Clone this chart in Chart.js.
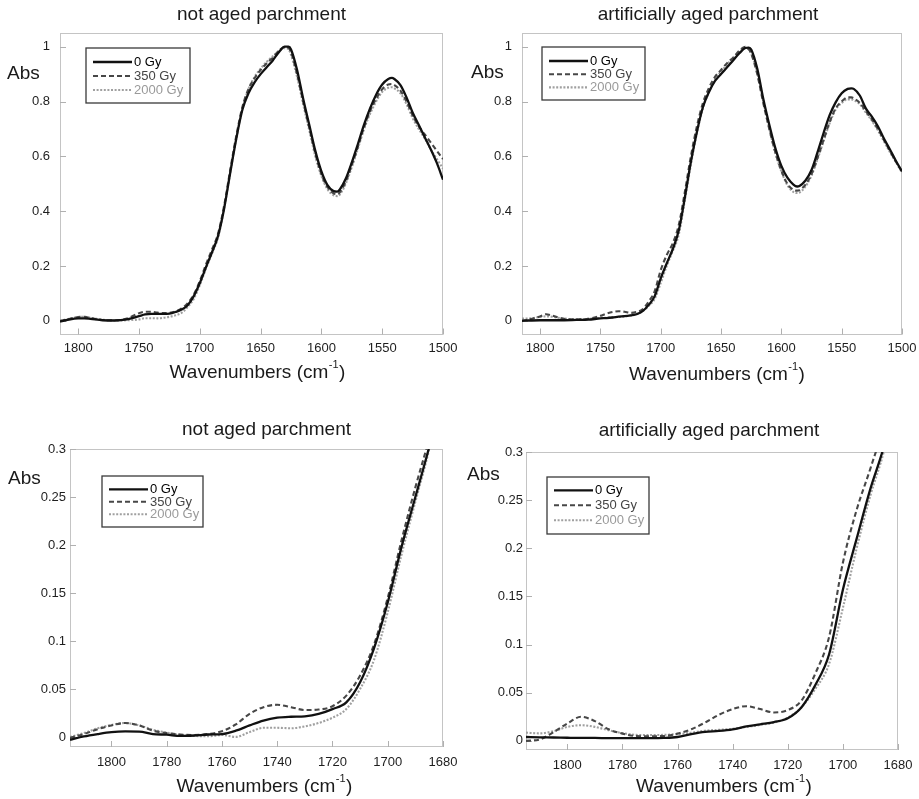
<!DOCTYPE html>
<html><head><meta charset="utf-8">
<script src="https://cdn.jsdelivr.net/npm/chart.js@4.4.0/dist/chart.umd.min.js"></script>
<style>
html,body{margin:0;padding:0;background:#fff;}
#wrap{position:relative;width:919px;height:799px;overflow:hidden;}
.p{position:absolute;}
</style></head><body>
<div id="wrap">
<div class="p" style="left:0;top:0;width:459px;height:400px"><canvas id="c1"></canvas></div>
<div class="p" style="left:459px;top:0;width:460px;height:400px"><canvas id="c2"></canvas></div>
<div class="p" style="left:0;top:400px;width:459px;height:399px"><canvas id="c3"></canvas></div>
<div class="p" style="left:459px;top:400px;width:460px;height:399px"><canvas id="c4"></canvas></div>
</div>
<script>
// ---------- data ----------
const seriesLabels = ['0 Gy', '350 Gy', '2000 Gy'];
const panelTitles = ['not aged parchment', 'artificially aged parchment'];

const fullTicksX = [1800, 1750, 1700, 1650, 1600, 1550, 1500];
const fullTicksY = [0, 0.2, 0.4, 0.6, 0.8, 1];
const zoomTicksX = [1800, 1780, 1760, 1740, 1720, 1700, 1680];
const zoomTicksY = [0, 0.05, 0.1, 0.15, 0.2, 0.25, 0.3];

const fullWavenumbers = [1815,1810,1800,1795,1790,1780,1770,1760,1750,1745,1740,1735,1730,1725,1720,1715,1710,1705,1700,1695,1690,1685,1680,1675,1670,1665,1660,1655,1650,1645,1640,1635,1630,1627,1625,1620,1615,1610,1605,1600,1595,1590,1587,1585,1580,1575,1570,1565,1560,1555,1550,1545,1542,1540,1535,1530,1525,1520,1515,1510,1505,1500];

const notAged0 = [-0.003,0.002,0.009,0.009,0.007, 0.002,0.001,0.005,0.017,0.023, 0.025,0.025,0.025,0.026,0.032, 0.041,0.057,0.09,0.138,0.195, 0.25,0.31,0.41,0.54,0.665, 0.77,0.83,0.87,0.9,0.925, 0.95,0.98,1.0,1.0,0.99, 0.915,0.81,0.715,0.62,0.545, 0.495,0.473,0.471,0.478,0.518, 0.578,0.645,0.715,0.775,0.825, 0.862,0.882,0.886,0.882,0.86, 0.815,0.76,0.715,0.67,0.625, 0.575,0.515];
const notAged350 = [0.0,0.004,0.014,0.015,0.01, 0.003,0.002,0.008,0.028,0.033, 0.033,0.03,0.028,0.029,0.034, 0.045,0.064,0.096,0.145,0.205, 0.26,0.318,0.42,0.55,0.675, 0.78,0.845,0.885,0.915,0.94, 0.96,0.985,1.0,0.995,0.98, 0.9,0.8,0.705,0.61,0.535, 0.488,0.465,0.462,0.468,0.508, 0.568,0.635,0.705,0.765,0.81, 0.845,0.862,0.864,0.86,0.84, 0.8,0.75,0.71,0.68,0.65, 0.62,0.59];
const notAged2000 = [0.0,0.005,0.014,0.015,0.011, 0.004,0.001,0.002,0.005,0.0095, 0.0095,0.009,0.011,0.0145,0.02, 0.029,0.05,0.08,0.13,0.19, 0.245,0.305,0.41,0.54,0.665, 0.775,0.845,0.89,0.92,0.945, 0.965,0.985,0.995,0.99,0.97, 0.89,0.79,0.695,0.6,0.528, 0.48,0.458,0.455,0.46,0.5, 0.56,0.628,0.698,0.755,0.8, 0.835,0.85,0.852,0.848,0.83, 0.79,0.74,0.7,0.665,0.625, 0.59,0.555];

const aged0 = [0.0,0.001,0.002,0.002,0.002, 0.002,0.003,0.004,0.009,0.01, 0.012,0.015,0.017,0.02,0.024, 0.035,0.058,0.09,0.155,0.21, 0.262,0.33,0.45,0.58,0.69, 0.78,0.835,0.875,0.9,0.925, 0.95,0.975,0.995,0.997,0.99, 0.92,0.81,0.715,0.63,0.565, 0.522,0.497,0.49,0.492,0.512, 0.55,0.615,0.685,0.75,0.797, 0.83,0.846,0.848,0.846,0.822, 0.775,0.745,0.71,0.665,0.625, 0.583,0.545];
const aged350 = [0.0,0.004,0.016,0.024,0.019, 0.007,0.005,0.007,0.018,0.026, 0.032,0.035,0.033,0.029,0.032, 0.042,0.07,0.108,0.185,0.24, 0.283,0.35,0.47,0.6,0.71, 0.795,0.85,0.89,0.915,0.94, 0.96,0.985,1.0,0.99,0.975, 0.9,0.795,0.7,0.615,0.548, 0.5,0.478,0.475,0.477,0.497, 0.535,0.595,0.66,0.725,0.775, 0.8,0.815,0.815,0.812,0.795, 0.765,0.735,0.7,0.66,0.62, 0.58,0.545];
const aged2000 = [0.008,0.008,0.0145,0.016,0.0145, 0.008,0.006,0.007,0.0105,0.0115, 0.0125,0.0145,0.0165,0.019,0.024, 0.035,0.054,0.08,0.138,0.2, 0.255,0.315,0.44,0.57,0.685, 0.775,0.835,0.88,0.91,0.935, 0.96,0.98,0.995,0.99,0.975, 0.905,0.8,0.7,0.612,0.545, 0.495,0.47,0.466,0.468,0.49, 0.53,0.59,0.655,0.72,0.77, 0.795,0.808,0.808,0.805,0.79, 0.76,0.73,0.695,0.655,0.615, 0.578,0.54];

const zoomWavenumbers = [1815,1810,1805,1800,1795,1790,1785,1780,1775,1770,1765,1760,1755,1750,1745,1740,1735,1730,1725,1720,1715,1710,1705,1700,1695,1690,1685,1680];

const zoomNotAged0 = [-0.003,0.0005,0.003,0.005,0.0057,0.0056,0.003,0.0023,0.001,0.0015,0.0025,0.003,0.0065,0.012,0.017,0.02,0.021,0.0215,0.024,0.029,0.036,0.057,0.092,0.14,0.198,0.25,0.302,0.36];
const zoomNotAged350 = [-0.001,0.003,0.008,0.012,0.0145,0.012,0.0065,0.004,0.0025,0.002,0.003,0.006,0.013,0.024,0.031,0.0335,0.031,0.028,0.0285,0.032,0.043,0.064,0.096,0.145,0.205,0.26,0.312,0.38];
const zoomNotAged2000 = [0.0,0.004,0.009,0.0125,0.0145,0.012,0.0075,0.0045,0.002,0.001,0.0007,0.002,0.0,0.005,0.0095,0.0095,0.009,0.011,0.0145,0.02,0.029,0.05,0.08,0.13,0.19,0.245,0.3,0.37];

const zoomAged0 = [0.004,0.0037,0.0035,0.0032,0.003,0.003,0.0028,0.0028,0.0028,0.0028,0.003,0.004,0.007,0.0093,0.0103,0.012,0.015,0.0172,0.0195,0.0235,0.035,0.058,0.09,0.157,0.21,0.262,0.307,0.37];
const zoomAged350 = [0.0,0.0015,0.009,0.018,0.025,0.0205,0.012,0.0075,0.005,0.0048,0.005,0.0075,0.012,0.019,0.027,0.033,0.036,0.033,0.0295,0.032,0.042,0.07,0.108,0.185,0.24,0.283,0.33,0.4];
const zoomAged2000 = [0.0085,0.0078,0.01,0.0145,0.0162,0.0145,0.011,0.008,0.0062,0.006,0.0062,0.007,0.0085,0.0105,0.0115,0.0125,0.0145,0.0165,0.019,0.024,0.035,0.054,0.08,0.138,0.2,0.255,0.302,0.37];

// ---------- styles ----------
const FONT = '"Liberation Sans", Arial, Helvetica, sans-serif';
const lineColors = ['#111111', '#474747', '#a0a0a0'];
const textColors = ['#000000', '#444444', '#9a9a9a'];
const lineDashes = [[], [5, 3], [2, 1.6]];
const lineWidths = [2.3, 2.1, 2.1];

const decor = {
  id: 'decor',
  beforeDatasetsDraw(chart) {
    const ctx = chart.ctx, a = chart.chartArea;
    ctx.save();
    ctx.strokeStyle = '#c4c4c4';
    ctx.lineWidth = 1;
    ctx.strokeRect(Math.round(a.left) + 0.5, Math.round(a.top) + 0.5, Math.round(a.right - a.left) - 1, Math.round(a.bottom - a.top) - 1);
    ctx.strokeStyle = '#b0b0b0';
    const xs = chart.scales.x, ys = chart.scales.y;
    ctx.beginPath();
    xs.ticks.forEach(t => {
      const px = Math.round(xs.getPixelForValue(t.value)) + 0.5;
      ctx.moveTo(px, a.bottom); ctx.lineTo(px, a.bottom - 6);
    });
    ys.ticks.forEach(t => {
      const py = Math.round(ys.getPixelForValue(t.value)) + 0.5;
      ctx.moveTo(a.left, py); ctx.lineTo(a.left + 6, py);
    });
    ctx.stroke();
    ctx.restore();
  },
  afterDraw(chart, args, o) {
    const ctx = chart.ctx, a = chart.chartArea;
    const cx = (a.left + a.right) / 2;
    ctx.save();
    ctx.fillStyle = '#1a1a1a';
    ctx.textBaseline = 'middle';
    // panel title
    ctx.font = '19px ' + FONT;
    ctx.textAlign = 'center';
    ctx.fillText(o.title, cx + o.titleDx, o.titleY);
    // Abs label
    ctx.textAlign = 'left';
    ctx.font = '19px ' + FONT;
    ctx.fillText('Abs', o.absX, o.absY);
    // x-axis title with superscript
    const main = 'Wavenumbers (cm', sup = '-1', close = ')';
    ctx.font = '19px ' + FONT;
    const w1 = ctx.measureText(main).width, w3 = ctx.measureText(close).width;
    ctx.font = '11px ' + FONT;
    const w2 = ctx.measureText(sup).width + 1;
    let x0 = cx + o.xTitleDx - (w1 + w2 + w3) / 2;
    ctx.font = '19px ' + FONT;
    ctx.fillText(main, x0, o.xTitleY);
    ctx.font = '11px ' + FONT;
    ctx.fillText(sup, x0 + w1 + 0.5, o.xTitleY - 8);
    ctx.font = '19px ' + FONT;
    ctx.fillText(close, x0 + w1 + w2, o.xTitleY);
    // legend box
    const L = o.legend;
    const bx = a.left + L.ox, by = a.top + L.oy;
    ctx.fillStyle = '#fff';
    ctx.fillRect(bx, by, L.w, L.h);
    ctx.strokeStyle = '#3a3a3a';
    ctx.lineWidth = 1.3;
    ctx.strokeRect(bx, by, L.w, L.h);
    ctx.font = '13px ' + FONT;
    chart.data.datasets.forEach((ds, i) => {
      const ry = by + L.first + i * L.gap;
      ctx.beginPath();
      ctx.setLineDash(ds.borderDash || []);
      ctx.strokeStyle = ds.borderColor;
      ctx.lineWidth = ds.borderWidth;
      ctx.moveTo(bx + 7, ry); ctx.lineTo(bx + 46, ry);
      ctx.stroke();
      ctx.setLineDash([]);
      ctx.fillStyle = textColors[i];
      ctx.textAlign = 'left';
      ctx.fillText(ds.label, bx + 48, ry + 0.5);
    });
    ctx.restore();
  }
};

function makeChart(id, xs, ys3, cfg) {
  const datasets = ys3.map((vals, i) => ({
    label: seriesLabels[i],
    data: xs.map((w, j) => ({ x: w, y: vals[j] })),
    borderColor: lineColors[i],
    borderDash: lineDashes[i],
    borderWidth: lineWidths[i],
    pointRadius: 0,
    fill: false,
    cubicInterpolationMode: 'monotone',
    clip: 0
  }));
  const tickFont = { family: FONT, size: 13 };
  return new Chart(document.getElementById(id), {
    type: 'line',
    data: { datasets },
    options: {
      responsive: true,
      maintainAspectRatio: false,
      animation: false,
      events: [],
      layout: { padding: { top: cfg.padTop, right: cfg.padRight, left: 0, bottom: 0 } },
      plugins: {
        legend: { display: false },
        title: { display: false },
        tooltip: { enabled: false },
        decor: cfg.decor
      },
      scales: {
        x: {
          type: 'linear',
          reverse: true,
          min: cfg.xMin, max: cfg.xMax,
          grid: { display: false, drawTicks: false },
          border: { display: false },
          afterBuildTicks: s => { s.ticks = cfg.ticksX.map(v => ({ value: v })); },
          afterFit: s => { s.height = cfg.xHeight; s.paddingLeft = 0; s.paddingRight = 0; },
          ticks: { autoSkip: false, maxRotation: 0, padding: cfg.xPad, color: '#1e1e1e', font: tickFont, callback: v => String(v) }
        },
        y: {
          type: 'linear',
          min: cfg.yMin, max: cfg.yMax,
          grid: { display: false, drawTicks: false },
          border: { display: false },
          afterBuildTicks: s => { s.ticks = cfg.ticksY.map(v => ({ value: v })); },
          afterFit: s => { s.width = cfg.yWidth; s.paddingTop = 0; s.paddingBottom = 0; },
          ticks: { padding: cfg.yPad, color: '#1e1e1e', font: tickFont, callback: v => String(v) }
        }
      }
    },
    plugins: [decor]
  });
}

makeChart('c1', fullWavenumbers, [notAged0, notAged350, notAged2000], {
  xMin: 1500, xMax: 1815, yMin: -0.05, yMax: 1.05, ticksX: fullTicksX, ticksY: fullTicksY,
  padTop: 33, padRight: 16, yWidth: 60, xHeight: 65.5, xPad: 6, yPad: 10,
  decor: { title: panelTitles[0], titleDx: 10, titleY: 15, absX: 7, absY: 74, xTitleDx: 6, xTitleY: 373,
    legend: { ox: 26, oy: 15, w: 104, h: 55, first: 14, gap: 14 } }
});
makeChart('c2', fullWavenumbers, [aged0, aged350, aged2000], {
  xMin: 1500, xMax: 1815, yMin: -0.05, yMax: 1.05, ticksX: fullTicksX, ticksY: fullTicksY,
  padTop: 33, padRight: 17, yWidth: 63, xHeight: 65.5, xPad: 6, yPad: 10,
  decor: { title: panelTitles[1], titleDx: -4, titleY: 15, absX: 12, absY: 73, xTitleDx: 5, xTitleY: 375,
    legend: { ox: 20, oy: 14, w: 103, h: 53, first: 14, gap: 13.2 } }
});
makeChart('c3', zoomWavenumbers, [zoomNotAged0, zoomNotAged350, zoomNotAged2000], {
  xMin: 1680, xMax: 1815, yMin: -0.0105, yMax: 0.3, ticksX: zoomTicksX, ticksY: zoomTicksY,
  padTop: 49, padRight: 16, yWidth: 70, xHeight: 52, xPad: 8, yPad: 4,
  decor: { title: panelTitles[0], titleDx: 10, titleY: 30, absX: 8, absY: 79, xTitleDx: 8, xTitleY: 387,
    legend: { ox: 32, oy: 27, w: 101, h: 51, first: 13.3, gap: 12.5 } }
});
makeChart('c4', zoomWavenumbers, [zoomAged0, zoomAged350, zoomAged2000], {
  xMin: 1680, xMax: 1815, yMin: -0.0095, yMax: 0.3, ticksX: zoomTicksX, ticksY: zoomTicksY,
  padTop: 52, padRight: 21, yWidth: 67, xHeight: 49, xPad: 8, yPad: 3,
  decor: { title: panelTitles[1], titleDx: -3, titleY: 31, absX: 8, absY: 75, xTitleDx: 12, xTitleY: 387,
    legend: { ox: 21, oy: 25, w: 102, h: 57, first: 13.3, gap: 15 } }
});
</script>
</body></html>
